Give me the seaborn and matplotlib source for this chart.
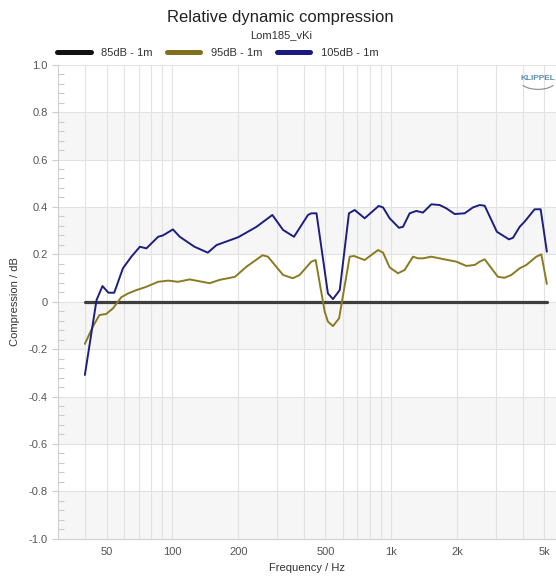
import numpy as np
import pandas as pd
import seaborn as sns
import matplotlib
matplotlib.use("Agg")
import matplotlib.pyplot as plt
from matplotlib.lines import Line2D
from matplotlib.patches import Arc
from matplotlib.ticker import FixedLocator, NullFormatter

# ---- data -------------------------------------------------------------
series_names = ["85dB - 1m", "95dB - 1m", "105dB - 1m"]

ref_freq = [40, 5130]
ref_comp = [0.0, 0.0]

mid_freq = [39.8, 43.3, 46.4, 49.8, 53.5, 58.4, 62.7, 68.5, 76, 86, 95.6, 106,
            120, 148, 164, 193, 218, 258, 273, 320, 355, 381, 431, 451, 496,
            513, 541, 577, 645, 675, 755, 869, 916, 982, 1072, 1150, 1255,
            1323, 1394, 1523, 1720, 1981, 2200, 2401, 2533, 2668, 3066, 3290,
            3534, 3855, 4134, 4594, 4842, 5132]
mid_comp = [-0.178, -0.105, -0.056, -0.052, -0.028, 0.019, 0.035, 0.049, 0.063,
            0.084, 0.089, 0.084, 0.094, 0.078, 0.092, 0.105, 0.148, 0.196,
            0.19, 0.113, 0.099, 0.113, 0.169, 0.176, -0.042, -0.084, -0.103,
            -0.07, 0.19, 0.193, 0.176, 0.218, 0.207, 0.145, 0.12, 0.134, 0.19,
            0.183, 0.183, 0.19, 0.18, 0.169, 0.151, 0.155, 0.169, 0.179, 0.105,
            0.101, 0.113, 0.141, 0.155, 0.19, 0.2, 0.075]

high_freq = [39.8, 45, 47.9, 51, 54.2, 59.4, 64.9, 71, 76, 86, 90.6, 100.5, 108,
             126, 145, 159, 199.6, 242, 286, 320, 359, 416, 431, 455, 513, 541,
             581, 640, 680, 755, 875, 916, 982, 1083, 1130, 1212, 1300, 1394,
             1523, 1662, 1783, 1946, 2161, 2360, 2533, 2668, 3035, 3446, 3596,
             3855, 4062, 4512, 4808, 5132]
high_comp = [-0.309, 0.007, 0.066, 0.038, 0.038, 0.141, 0.19, 0.232, 0.225,
             0.274, 0.28, 0.305, 0.274, 0.232, 0.207, 0.239, 0.272, 0.316,
             0.366, 0.303, 0.274, 0.366, 0.373, 0.373, 0.035, 0.011, 0.049,
             0.373, 0.387, 0.352, 0.404, 0.398, 0.352, 0.312, 0.316, 0.373,
             0.383, 0.376, 0.411, 0.408, 0.394, 0.37, 0.373, 0.398, 0.408,
             0.405, 0.295, 0.263, 0.27, 0.316, 0.338, 0.39, 0.39, 0.211]

x_tick_values = [50, 100, 200, 500, 1000, 2000, 5000]
x_tick_labels = ["50", "100", "200", "500", "1k", "2k", "5k"]
y_tick_values = [1.0, 0.8, 0.6, 0.4, 0.2, 0.0, -0.2, -0.4, -0.6, -0.8, -1.0]
y_tick_labels = ["1.0", "0.8", "0.6", "0.4", "0.2", "0", "-0.2", "-0.4", "-0.6", "-0.8", "-1.0"]

line_colors = ["#3e3e3e", "#8a7a22", "#1e1e7e"]
legend_colors = ["#111111", "#80701c", "#1a1a80"]
widths = [2.3, 1.4, 1.4]

# ---- long table for seaborn -------------------------------------------
frames = []
for name, f, c in zip(series_names, [ref_freq, mid_freq, high_freq],
                      [ref_comp, mid_comp, high_comp]):
    frames.append(pd.DataFrame({"freq": f, "comp": c, "series": name}))
df = pd.concat(frames, ignore_index=True)

sns.set_theme(style="white")
plt.rcParams["font.family"] = ["Liberation Sans", "DejaVu Sans"]

fig = plt.figure(figsize=(5.56, 5.82), dpi=100)
ax = fig.add_axes([0.1043, 0.0744, 0.8957, 0.8144])

ax.set_xscale("log")
ax.set_xlim(30, 5650)
ax.set_ylim(-1.0, 1.0)

# alternating horizontal bands
for lo in [0.6, 0.2, -0.2, -0.6, -1.0]:
    ax.axhspan(lo, lo + 0.2, color="#f6f6f6", zorder=0, lw=0)

# grid lines
for y in y_tick_values:
    ax.axhline(y, color="#e2e2e2", lw=0.8, zorder=0.5)
vgrid = [40, 50, 60, 70, 80, 90, 100, 200, 300, 400, 500, 600, 700, 800, 900,
         1000, 2000, 3000, 4000, 5000]
for x in vgrid:
    ax.axvline(x, color="#e2e2e2", lw=0.8, zorder=0.5)

for name, col, lw in zip(series_names, line_colors, widths):
    sns.lineplot(data=df[df["series"] == name], x="freq", y="comp", color=col,
                 lw=lw, ax=ax, estimator=None, sort=True, legend=False, zorder=3)

# axes styling
for s in ["top", "right"]:
    ax.spines[s].set_visible(False)
for s in ["left", "bottom"]:
    ax.spines[s].set_color("#d0d0d0")
    ax.spines[s].set_linewidth(0.8)

ax.xaxis.set_major_locator(FixedLocator(x_tick_values))
ax.set_xticklabels(x_tick_labels)
ax.xaxis.set_minor_locator(FixedLocator([]))
ax.xaxis.set_minor_formatter(NullFormatter())
ax.tick_params(axis="x", which="major", length=0, labelsize=8, colors="#555555", pad=6)

ax.set_yticks(y_tick_values)
ax.set_yticklabels(y_tick_labels)
ax.yaxis.set_minor_locator(FixedLocator(np.round(np.arange(-1.0, 1.0001, 0.04), 2)))
ax.tick_params(axis="y", which="major", left=True, length=4, width=0.8,
               color="#cccccc", direction="out", labelsize=8, labelcolor="#555555")
ax.tick_params(axis="y", which="minor", left=True, length=4, width=0.8,
               color="#cccccc", direction="in")

ax.set_xlabel("Frequency / Hz", fontsize=8, color="#333333", labelpad=4)
ax.set_ylabel("Compression / dB", fontsize=8, color="#333333", labelpad=6)

fig.text(0.5045, 0.970, "Relative dynamic compression", ha="center", va="center",
         fontsize=12, color="#222222")
fig.text(0.506, 0.939, "Lom185_vKi", ha="center", va="center", fontsize=8,
         color="#333333")

handles = [Line2D([0], [0], color=c, lw=3.6) for c in legend_colors]
fig.legend(handles, series_names, loc="center left", bbox_to_anchor=(0.085, 0.909),
           ncol=3, frameon=False, fontsize=8, handlelength=3.0, handletextpad=0.95,
           columnspacing=1.3, labelcolor="#333333")

# vendor mark
ax.text(0.964, 0.970, "KLIPPEL", transform=ax.transAxes, ha="center", va="center",
        fontsize=6, color="#5b8fb0", fontweight="bold")
ax.add_patch(Arc((0.964, 0.968), 0.075, 0.04, theta1=200, theta2=340,
                 transform=ax.transAxes, color="#8a8a8a", lw=0.8))

fig.savefig("out.png", dpi=100)
